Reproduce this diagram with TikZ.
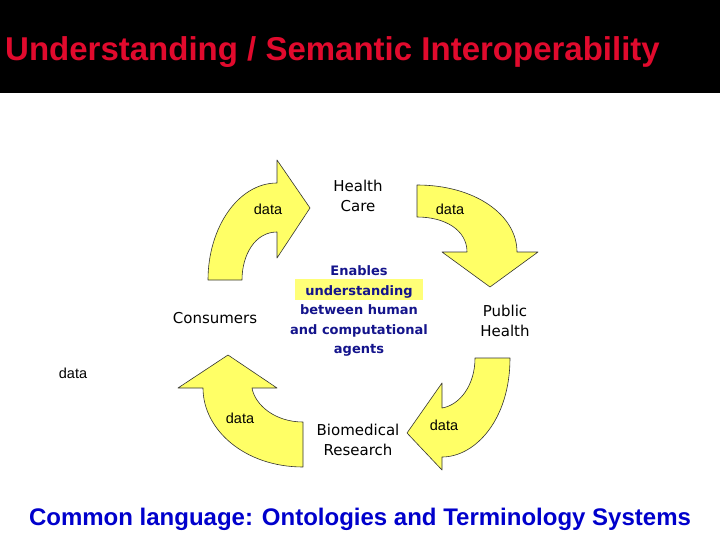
\documentclass[tikz,border=0pt]{standalone}
\usepackage{fontspec}
\setmainfont{Liberation Sans}
\newfontfamily\verdana{DejaVu Sans}
\definecolor{arrowfill}{RGB}{255,255,102}
\definecolor{titlered}{RGB}{225,10,45}
\definecolor{navy}{RGB}{20,20,140}
\definecolor{langblue}{RGB}{0,0,204}
\definecolor{hilite}{RGB}{255,255,120}

\begin{document}
\begin{tikzpicture}[x=1pt,y=-1pt,
  bigarrow/.style={fill=arrowfill,draw=black!80,line width=0.6pt,line join=round},
  datalabel/.style={font=\fontsize{14.5}{16}\selectfont},
  place/.style={font=\verdana\fontsize{15}{19.5}\selectfont,align=center}]
\useasboundingbox (0,0) rectangle (720,540);
\fill[white] (0,0) rectangle (720,540);
\fill[black] (0,0) rectangle (720,93);
\node[anchor=base west,text=titlered,inner sep=0pt,
  font=\bfseries\fontsize{33}{36}\selectfont] (title) at (5,61)
  {Understanding / Semantic Interoperability};

% the four curved arrows of the cycle
\draw[bigarrow] (208,280) .. controls (208,228) and (238,183) .. (277,183)
  -- (277,160) -- (310,208) -- (277,258) -- (277,232)
  .. controls (255,232) and (242,255) .. (242,280) -- cycle;
\draw[bigarrow] (417,185) .. controls (475,185) and (517,215) .. (517,252)
  -- (538,252) -- (490,287) -- (442,252) -- (467,252)
  .. controls (467,230) and (445,217) .. (417,217) -- cycle;
\draw[bigarrow] (510,358) .. controls (510,420) and (475,457) .. (442,457)
  -- (442,470) -- (407,433) -- (442,383) -- (442,408)
  .. controls (460,405) and (475,385) .. (475,358) -- cycle;
\draw[bigarrow] (303,467) .. controls (245,467) and (203,430) .. (203,388)
  -- (178,388) -- (228,355) -- (277,388) -- (252,388)
  .. controls (255,405) and (275,422) .. (303,422) -- cycle;

\foreach \x/\y/\nm in {268/209/dataA,450/209/dataB,444/425/dataC,240/418/dataD,73/373/dataE}
  \node[datalabel] (\nm) at (\x,\y) {data};

\node[place] (care) at (358,196) {Health\\Care};
\node[place] (public) at (505,321) {Public\\Health};
\node[place] (research) at (358,440) {Biomedical\\Research};
\node[place] (consumers) at (215,318) {Consumers};

\node[align=center,text=navy,font=\verdana\bfseries\fontsize{13}{19.5}\selectfont] (enables) at (359,311)
  {Enables\\{\setlength\fboxsep{0pt}\smash{\colorbox{hilite}{\rule[-5pt]{0pt}{21pt}\hspace{10pt}understanding\hspace{10pt}}}}\\
   between human\\and computational\\agents};

\node[anchor=base,text=langblue,inner sep=0pt,font=\bfseries\fontsize{24}{28}\selectfont] (language) at (360,525)
  {Common language: Ontologies and Terminology Systems};
\end{tikzpicture}
\end{document}
